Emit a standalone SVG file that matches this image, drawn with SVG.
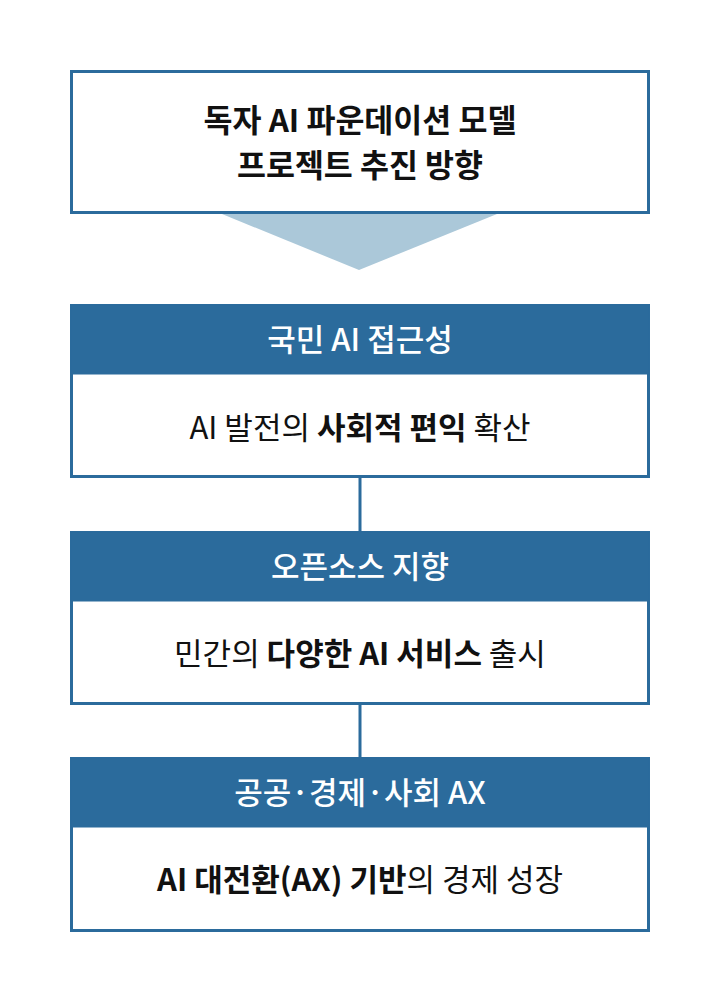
<svg xmlns="http://www.w3.org/2000/svg" width="720" height="998" viewBox="0 0 720 998">
<style>
.box{fill:#fff;stroke:#2b6b9c;stroke-width:3}
.hd{fill:#2b6b9c}
text{font-family:"Noto Sans CJK KR","Noto Sans",sans-serif;text-anchor:middle}
.ht{fill:#fff;font-size:31px;font-weight:500}
.bt{fill:#111;font-size:31px;font-weight:400}
.tt{fill:#111;font-size:31.5px;font-weight:700}
.b{font-weight:700}
.ln{stroke:#2b6b9c;stroke-width:3}
</style>
<rect width="720" height="998" fill="#fff"/>
<g id="title">
<rect class="box" x="71.5" y="71.5" width="577" height="141"/>
<text class="tt" x="360" y="132">독자 AI 파운데이션 모델</text>
<text class="tt" x="360" y="177">프로젝트 추진 방향</text>
</g>
<polygon points="222,214 497,214 359,270" fill="#abc8d9"/>
<g id="connectors">
<line class="ln" x1="360" y1="477" x2="360" y2="532"/>
<line class="ln" x1="360" y1="704" x2="360" y2="758"/>
</g>
<g id="node1">
<rect class="box" x="71.5" y="305.5" width="577" height="171"/>
<rect class="hd" x="71.5" y="305.5" width="577" height="69"/>
<text class="ht" x="360" y="351">국민 AI 접근성</text>
<text class="bt" x="360" y="439">AI 발전의 <tspan class="b">사회적 편익</tspan> 확산</text>
</g>
<g id="node2">
<rect class="box" x="71.5" y="532.5" width="577" height="171"/>
<rect class="hd" x="71.5" y="532.5" width="577" height="69"/>
<text class="ht" x="360" y="578">오픈소스 지향</text>
<text class="bt" x="360" y="665">민간의 <tspan class="b">다양한 AI 서비스</tspan> 출시</text>
</g>
<g id="node3">
<rect class="box" x="71.5" y="758.5" width="577" height="172"/>
<rect class="hd" x="71.5" y="758.5" width="577" height="69"/>
<text class="ht" x="360" y="804">공공·경제·사회 AX</text>
<text class="bt" x="360" y="891"><tspan class="b">AI 대전환(AX) 기반</tspan>의 경제 성장</text>
</g>
</svg>
